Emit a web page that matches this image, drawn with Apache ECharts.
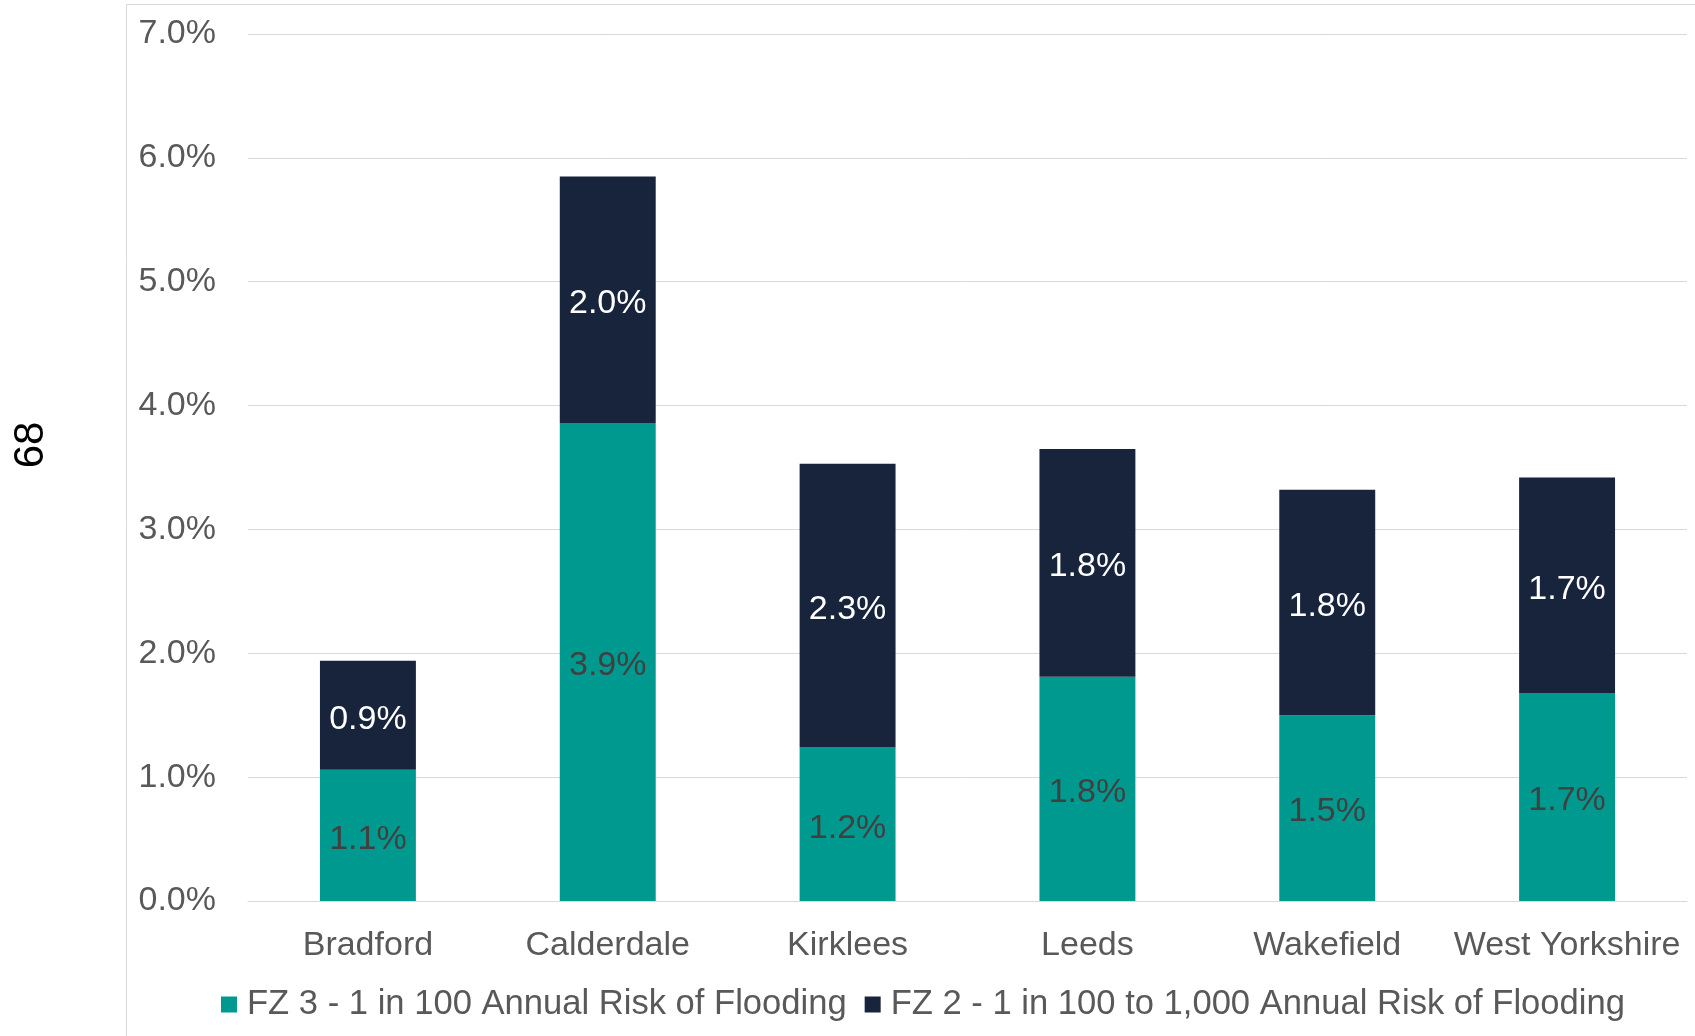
<!DOCTYPE html>
<html>
<head>
<meta charset="utf-8">
<script src="https://cdn.jsdelivr.net/npm/echarts@6/dist/echarts.min.js"></script>
<style>
  html, body { margin: 0; padding: 0; background: #fff; }
  #chart { width: 1695px; height: 1036px; }
</style>
</head>
<body>
<div id="chart"></div>
<script>
// data (percent of area)
const categories = ['Bradford', 'Calderdale', 'Kirklees', 'Leeds', 'Wakefield', 'West Yorkshire'];
const fz3Values = [1.06, 3.86, 1.24, 1.81, 1.50, 1.68];
const fz2Values = [0.88, 1.99, 2.29, 1.84, 1.82, 1.74];
const seriesNames = ['FZ 3 - 1 in 100 Annual Risk of Flooding', 'FZ 2 - 1 in 100 to 1,000 Annual Risk of Flooding'];
const yTicks = [0, 1, 2, 3, 4, 5, 6, 7];
const pageNumber = '68';

const FONT = "'Liberation Sans', Arial, sans-serif";
const GREY = '#595959';
const TEAL = '#00998F';
const NAVY = '#18233C';

const chart = echarts.init(document.getElementById('chart'), null, { renderer: 'canvas' });

const pct = v => v.toFixed(1) + '%';

const option = {
  backgroundColor: '#fff',
  animation: false,
  textStyle: { fontFamily: FONT },
  grid: { left: 248, right: 8, top: 34, bottom: 135 },
  legend: {
    left: 221,
    top: 987,
    padding: 0,
    itemWidth: 16,
    itemHeight: 16,
    itemGap: 18,
    icon: 'rect',
    textStyle: { fontFamily: FONT, fontSize: 34.6, color: GREY, padding: [0, 0, 0, 5] },
    data: seriesNames
  },
  xAxis: {
    type: 'category',
    data: categories,
    axisTick: { show: false },
    axisLine: { lineStyle: { color: '#D9D9D9', width: 1 } },
    axisLabel: { interval: 0, fontFamily: FONT, fontSize: 34, color: GREY, margin: 28 }
  },
  yAxis: {
    type: 'value',
    min: yTicks[0],
    max: yTicks[yTicks.length - 1],
    interval: 1,
    axisLine: { show: false },
    axisTick: { show: false },
    splitLine: { lineStyle: { color: '#D9D9D9', width: 1 } },
    axisLabel: {
      fontFamily: FONT, fontSize: 34, color: GREY, margin: 32,
      padding: [8, 0, 0, 0],
      formatter: v => pct(v)
    }
  },
  series: [
    {
      name: seriesNames[0],
      type: 'bar',
      stack: 'total',
      barWidth: '40%',
      data: fz3Values,
      itemStyle: { color: TEAL },
      label: {
        show: true, position: 'inside', offset: [0, 4],
        fontFamily: FONT, fontSize: 34, color: '#404040',
        formatter: p => pct(p.value)
      }
    },
    {
      name: seriesNames[1],
      type: 'bar',
      stack: 'total',
      barWidth: '40%',
      data: fz2Values,
      itemStyle: { color: NAVY },
      label: {
        show: true, position: 'inside', offset: [0, 4],
        fontFamily: FONT, fontSize: 34, color: '#fff',
        formatter: p => pct(p.value)
      }
    }
  ],
  graphic: [
    {
      type: 'rect',
      silent: true,
      shape: { x: 126.5, y: 4.5, width: 1700, height: 1100 },
      style: { fill: 'none', stroke: '#D9D9D9', lineWidth: 1 }
    },
    {
      type: 'text',
      x: 31,
      y: 445,
      rotation: Math.PI / 2,
      style: {
        text: pageNumber,
        fontFamily: FONT,
        fontSize: 42,
        fill: '#000',
        align: 'center',
        verticalAlign: 'middle'
      }
    }
  ]
};

chart.setOption(option);
</script>
</body>
</html>
